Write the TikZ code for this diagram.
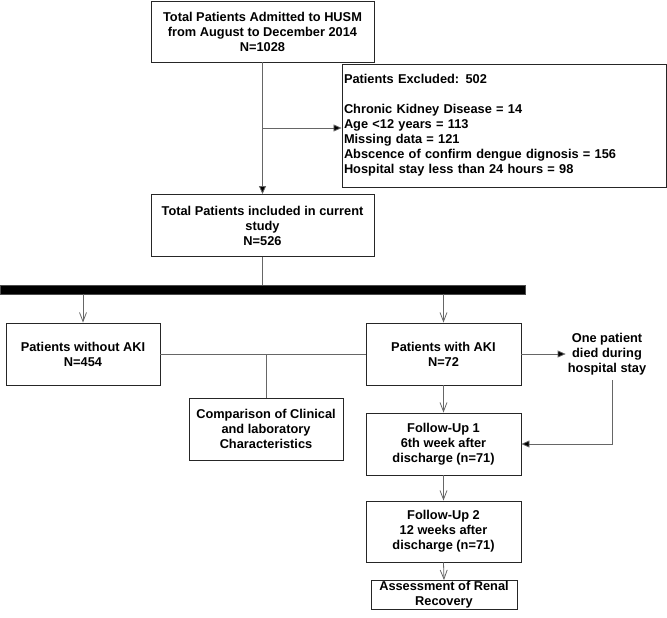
\documentclass[tikz,border=0pt]{standalone}
\usepackage{fontspec}
\setmainfont{Liberation Sans}
\usetikzlibrary{arrows.meta,calc}
\begin{document}
\begin{tikzpicture}[x=1pt,y=-1pt,
  every node/.style={font=\fontsize{12.8}{15}\selectfont\bfseries},
  box/.style={draw=black!85,line width=0.9pt,align=center,inner sep=1pt},
  conn/.style={draw=black!60,line width=0.8pt},
  solidarr/.style={conn,-{Triangle[length=8pt,width=7pt,fill=black]}},
  openarr/.style={conn,-{Straight Barb[length=9pt,width=7pt]}}]
\useasboundingbox (0,0) rectangle (667,618);
\node[box,minimum width=223pt,minimum height=61pt] (top) at (262.5,31.5)
  {Total Patients Admitted to HUSM\\from August to December 2014\\N=1028};
\node[box,minimum width=324pt,minimum height=123pt,align=left,text width=320pt] (excl) at (504,125.5)
  {Patients Excluded: 502\\[15pt]Chronic Kidney Disease = 14\\Age <12 years = 113\\Missing data = 121\\Abscence of confirm dengue dignosis = 156\\Hospital stay less than 24 hours = 98};
\node[box,minimum width=223pt,minimum height=62pt] (incl) at (262.5,225.5)
  {Total Patients included in current\\study\\N=526};
\node[fill=black,draw=black!70,minimum width=525pt,minimum height=9pt,inner sep=0pt,anchor=north west] (bar) at (0,285) {};
\node[box,minimum width=154pt,minimum height=62pt] (noaki) at (83,354)
  {Patients without AKI\\N=454};
\node[box,minimum width=154pt,minimum height=62pt] (comp) at (266,429)
  {Comparison of Clinical\\and laboratory\\Characteristics};
\node[box,minimum width=155pt,minimum height=62pt] (aki) at (443.5,354)
  {Patients with AKI\\N=72};
\node[align=center,inner sep=2pt] (died) at (607,354)
  {One patient\\died during\\hospital stay};
\node[box,minimum width=155pt,minimum height=62pt] (fu1) at (443.5,444)
  {Follow-Up 1\\6th week after\\discharge (n=71)};
\node[box,minimum width=155pt,minimum height=61pt] (fu2) at (443.5,531.5)
  {Follow-Up 2\\12 weeks after\\discharge (n=71)};
\node[box,minimum width=146pt,minimum height=28pt] (assess) at (444,595)
  {Assessment of Renal\\Recovery};
% connectors
\draw[solidarr] (top.south) -- (incl.north);
\coordinate (j) at ($(top.south)!0.5!(incl.north)$);
\draw[solidarr] (j |- 0,128) -- (excl.west |- 0,128);
\draw[conn] (incl.south) -- (incl.south |- bar.north);
\draw[openarr] (noaki.north |- bar.south) -- (noaki.north);
\draw[openarr] (aki.north |- bar.south) -- (aki.north);
\draw[conn] (noaki.east) -- (aki.west);
\draw[conn] (comp.north |- noaki.east) -- (comp.north);
\draw[solidarr] (aki.east) -- (died.west);
\coordinate (d1) at ([xshift=5pt,yshift=-3pt]died.south);
\draw[solidarr] (d1) |- (fu1.east);
\draw[openarr] (aki.south) -- (fu1.north);
\draw[openarr] (fu1.south) -- (fu2.north);
\draw[openarr] (fu2.south) -- (assess.north);
\end{tikzpicture}
\end{document}
